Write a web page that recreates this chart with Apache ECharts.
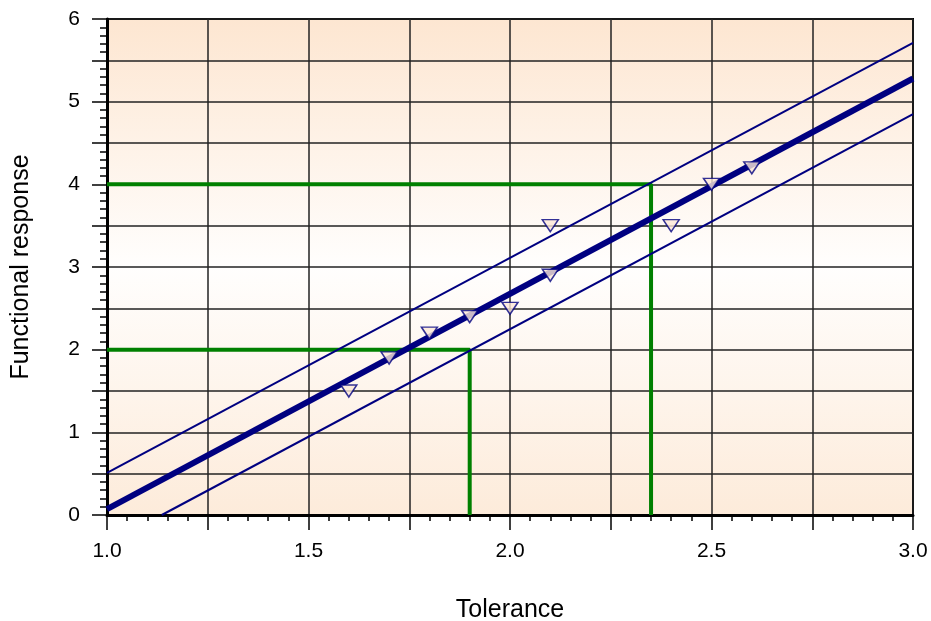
<!DOCTYPE html>
<html>
<head>
<meta charset="utf-8">
<script src="https://cdn.jsdelivr.net/npm/echarts@6/dist/echarts.min.js"></script>
<style>html,body{margin:0;padding:0;background:#fff;}#chart{width:931px;height:621px;}</style>
</head>
<body>
<div id="chart"></div>
<script>
// Data
const xRange = [1.0, 3.0];
const yRange = [0, 6];
const fitLine = [[1.0, 0.07], [3.0, 5.28]];
const upperLine = [[1.0, 0.51], [3.0, 5.71]];
const lowerLine = [[1.136, 0.0], [3.0, 4.85]];
const pointX = [1.6, 1.7, 1.8, 1.9, 2.0, 2.1, 2.1, 2.4, 2.5, 2.6];
const pointY = [1.5, 1.9, 2.2, 2.4, 2.5, 3.5, 2.9, 3.5, 4.0, 4.2];
const guideLow = [[1.0, 2.0], [1.9, 2.0], [1.9, 0.0]];
const guideHigh = [[1.0, 4.0], [2.35, 4.0], [2.35, 0.0]];
const xTitle = 'Tolerance';
const yTitle = 'Functional response';

const FONT = "'Liberation Sans', Arial, sans-serif";
const chart = echarts.init(document.getElementById('chart'), null, {renderer: 'canvas'});
const isMult = (v, m) => Math.abs(v / m - Math.round(v / m)) < 1e-6;

chart.setOption({
  animation: false,
  grid: {
    left: 107, right: 18, top: 19, bottom: 106,
    containLabel: false,
    outerBoundsMode: 'none',
    show: true,
    borderColor: '#000', borderWidth: 2,
    backgroundColor: new echarts.graphic.LinearGradient(0, 0, 0, 1, [
      {offset: 0, color: '#fde6d1'},
      {offset: 0.5, color: '#fffefd'},
      {offset: 1, color: '#fdebda'}
    ])
  },
  xAxis: {
    type: 'value', min: xRange[0], max: xRange[1], interval: 0.25,
    name: xTitle, nameLocation: 'middle', nameGap: 83,
    nameTextStyle: {fontFamily: FONT, fontSize: 25, color: '#000'},
    axisLine: {show: true, onZero: false, lineStyle: {color: '#000', width: 3}},
    axisTick: {show: true, inside: false, length: 15, lineStyle: {color: '#000', width: 1.5}},
    minorTick: {show: true, splitNumber: 5, length: 6, lineStyle: {color: '#000', width: 1.5}},
    splitLine: {show: true, lineStyle: {color: '#222', width: 1.5}},
    axisLabel: {
      margin: 26, fontFamily: FONT, fontSize: 21, color: '#000',
      showMinLabel: true, showMaxLabel: true,
      formatter: v => isMult(v, 0.5) ? v.toFixed(1) : ''
    }
  },
  yAxis: {
    type: 'value', min: yRange[0], max: yRange[1], interval: 0.5,
    name: yTitle, nameLocation: 'middle', nameGap: 73, nameRotate: 90,
    nameTextStyle: {fontFamily: FONT, fontSize: 25, color: '#000'},
    axisLine: {show: true, onZero: false, lineStyle: {color: '#000', width: 3}},
    axisTick: {show: true, inside: false, length: 15, lineStyle: {color: '#000', width: 1.5}},
    minorTick: {show: true, splitNumber: 5, length: 7, lineStyle: {color: '#000', width: 1.5}},
    splitLine: {show: true, lineStyle: {color: '#222', width: 1.5}},
    axisLabel: {
      margin: 27, fontFamily: FONT, fontSize: 21, color: '#000',
      formatter: v => isMult(v, 1) ? String(Math.round(v)) : ''
    }
  },
  series: [
    {type: 'line', data: guideLow, symbol: 'none', z: 2, lineStyle: {color: '#008000', width: 4}},
    {type: 'line', data: guideHigh, symbol: 'none', z: 2, lineStyle: {color: '#008000', width: 4}},
    {type: 'line', data: upperLine, symbol: 'none', z: 3, lineStyle: {color: '#000080', width: 2}},
    {type: 'line', data: lowerLine, symbol: 'none', z: 3, lineStyle: {color: '#000080', width: 2}},
    {type: 'line', data: fitLine, symbol: 'none', z: 4, lineStyle: {color: '#000080', width: 6}},
    {
      type: 'scatter', z: 5,
      data: pointX.map((x, i) => [x, pointY[i]]),
      symbol: 'triangle', symbolRotate: 180, symbolSize: [16, 12],
      itemStyle: {color: '#fde8d8', borderColor: '#000080', borderWidth: 1.5}
    }
  ]
});
</script>
</body>
</html>
